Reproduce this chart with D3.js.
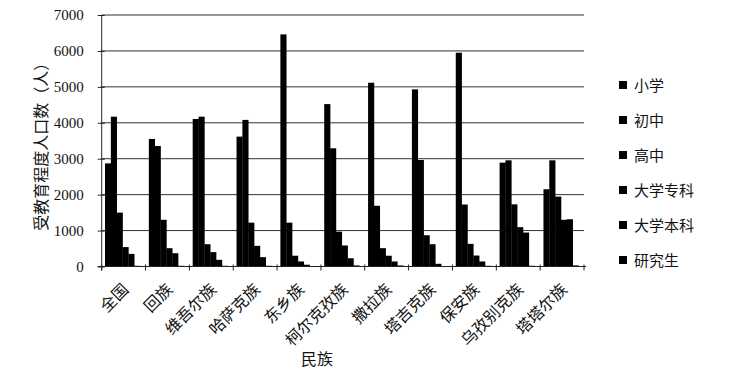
<!DOCTYPE html>
<html>
<head>
<meta charset="utf-8">
<script src="https://cdn.jsdelivr.net/npm/d3@7"></script>
<style>
  body { margin: 0; background: #fff; }
  svg text { fill: #111; }
</style>
</head>
<body>
<div id="chart"></div>
<script>
const width = 745;
const height = 374;

const groups = ["全国", "回族", "维吾尔族", "哈萨克族", "东乡族", "柯尔克孜族", "撒拉族", "塔吉克族", "保安族", "乌孜别克族", "塔塔尔族"];
const series = ["小学", "初中", "高中", "大学专科", "大学本科", "研究生"];
const yTicks = [0, 1000, 2000, 3000, 4000, 5000, 6000, 7000];

// one array per level of education, in group order
const primary   = [2870, 3550, 4105, 3615, 6460, 4520, 5115, 4930, 5950, 2890, 2150];
const junior    = [4170, 3355, 4170, 4080, 1220, 3290, 1690, 2965, 1725, 2955, 2955];
const senior    = [1500, 1300, 620, 1220, 300, 970, 510, 870, 630, 1730, 1945];
const college   = [540, 510, 400, 575, 140, 585, 300, 620, 305, 1095, 1300];
const bachelor  = [350, 370, 185, 260, 50, 230, 140, 75, 140, 945, 1315];
const graduate  = [20, 20, 20, 20, 10, 30, 30, 10, 20, 20, 30];

const values = [primary, junior, senior, college, bachelor, graduate];

const margin = { left: 101.7, right: 161, top: 15, bottom: 107.5 };
const plotRight = width - margin.right;
const plotBottom = height - margin.bottom;

const svg = d3.select("#chart")
  .append("svg")
  .attr("width", width)
  .attr("height", height);

const x = d3.scaleBand()
  .domain(groups)
  .range([margin.left, plotRight])
  .padding(0);

const xInner = d3.scaleBand()
  .domain(series)
  .range([3.3, x.bandwidth() - 5.5])
  .padding(0);

const y = d3.scaleLinear()
  .domain([0, 7000])
  .range([plotBottom, margin.top]);

// gridlines
svg.append("g")
  .selectAll("line")
  .data(yTicks.slice(1))
  .enter()
  .append("line")
  .attr("x1", margin.left)
  .attr("x2", plotRight)
  .attr("y1", d => y(d))
  .attr("y2", d => y(d))
  .attr("stroke", "#333")
  .attr("stroke-width", 1);

// bars
const table = groups.map((g, i) => series.map((s, j) => ({ group: g, key: s, value: values[j][i] })));

svg.append("g")
  .selectAll("g")
  .data(table)
  .enter()
  .append("g")
  .attr("transform", (d, i) => `translate(${x(groups[i])},0)`)
  .selectAll("rect")
  .data(d => d)
  .enter()
  .append("rect")
  .attr("x", d => xInner(d.key))
  .attr("y", d => y(d.value))
  .attr("width", xInner.bandwidth() + 0.3)
  .attr("height", d => plotBottom - y(d.value))
  .attr("fill", "#000");

// y axis
const yAxis = d3.axisLeft(y)
  .tickValues(yTicks)
  .tickSize(4)
  .tickFormat(d3.format("d"));

const yg = svg.append("g")
  .attr("transform", `translate(${margin.left},0)`)
  .call(yAxis);
yg.selectAll(".tick line").attr("x2", 3).attr("x1", -4).attr("stroke", "#222");
yg.select(".domain").attr("stroke", "#222").attr("d", `M0,${plotBottom + 4}V${margin.top}`);
yg.selectAll(".tick text")
  .attr("x", -18)
  .style("font-family", "'Liberation Serif', 'DejaVu Serif', serif")
  .style("font-size", "15px")
  .attr("fill", "#111");

// x axis
const xAxis = d3.axisBottom(x).tickSize(0).tickFormat("");
const xg = svg.append("g")
  .attr("transform", `translate(0,${plotBottom})`)
  .call(xAxis);
xg.select(".domain").attr("stroke", "#222").attr("d", `M${margin.left - 4},0H${plotRight + 2}`);

svg.append("g")
  .selectAll("line")
  .data(groups.concat(["end"]))
  .enter()
  .append("line")
  .attr("x1", (d, i) => margin.left + i * x.bandwidth())
  .attr("x2", (d, i) => margin.left + i * x.bandwidth())
  .attr("y1", plotBottom - 2)
  .attr("y2", plotBottom + 4)
  .attr("stroke", "#222");

svg.append("g")
  .selectAll("text")
  .data(groups)
  .enter()
  .append("text")
  .attr("transform", d => `translate(${x(d) + x.bandwidth() / 2 + 6},${plotBottom + 24}) rotate(-45)`)
  .attr("text-anchor", "end")
  .style("font-family", "'Noto Sans CJK SC', sans-serif")
  .style("font-size", "16px")
  .text(d => d);

// axis titles
svg.append("text")
  .attr("transform", `translate(47,${(margin.top + plotBottom) / 2 + 2}) rotate(-90)`)
  .attr("text-anchor", "middle")
  .style("font-family", "'Noto Sans CJK SC', sans-serif")
  .style("font-size", "16px")
  .text("受教育程度人口数（人）");

svg.append("text")
  .attr("x", 317)
  .attr("y", 365)
  .attr("text-anchor", "middle")
  .style("font-family", "'Noto Sans CJK SC', sans-serif")
  .style("font-size", "16px")
  .text("民族");

// legend
const legend = svg.append("g")
  .selectAll("g")
  .data(series)
  .enter()
  .append("g")
  .attr("transform", (d, i) => `translate(619,${85 + i * 35})`);

legend.append("rect")
  .attr("x", 0)
  .attr("y", -4)
  .attr("width", 8)
  .attr("height", 8)
  .attr("fill", "#000");

legend.append("text")
  .attr("x", 15)
  .attr("y", 5.5)
  .style("font-family", "'Noto Sans CJK SC', sans-serif")
  .style("font-size", "15px")
  .text(d => d);
</script>
</body>
</html>
